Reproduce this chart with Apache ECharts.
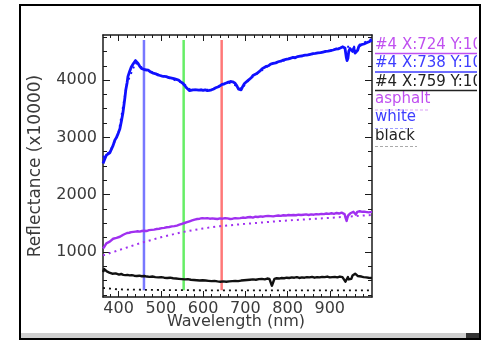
<!DOCTYPE html>
<html><head><meta charset="utf-8">
<script src="https://cdn.jsdelivr.net/npm/echarts@6/dist/echarts.min.js"></script>
<style>html,body{margin:0;padding:0;background:#fff}#c{width:485px;height:343px}</style>
</head><body><div id="c"></div>
<script>
// ---- data ----
const xMajorTicks = [400, 500, 600, 700, 800, 900];
const xMinorTicks = [380,400,420,440,460,480,500,520,540,560,580,600,620,640,660,680,700,720,740,760,780,800,820,840,860,880,900,920,940,960,980];
const yMajorTicks = [1000, 2000, 3000, 4000];
const yMinorTicks = [250,500,750,1000,1250,1500,1750,2000,2250,2500,2750,3000,3250,3500,3750,4000,4250,4500,4750];

const whiteNm = [363,367,371,375,379,383,387,391,395,399,403,407,410,412,415,417,420,422,426,430,435,440,443,446,450,454,458,462,466,470,476,482,488,493,498,503,508,513,518,523,528,533,537,542,547,552,556,560,564,568,572,576,580,585,590,595,600,605,610,615,620,625,630,635,640,645,650,655,660,665,670,675,680,684,687,690,694,698,702,706,710,714,718,722,726,730,735,740,745,750,755,760,766,772,778,784,790,796,802,808,813,818,824,830,836,842,848,854,860,866,872,878,884,890,896,902,908,914,920,925,930,933,936,939,941,943,945,948,951,954,957,960,963,966,969,972,975,978,981,984,987,990,993,996,1000];
const whiteMeasured = [2545,2620,2690,2700,2730,2750,2860,2950,3000,3070,3150,3300,3420,3530,3700,3830,3950,4060,4150,4230,4290,4340,4320,4290,4240,4205,4190,4180,4165,4175,4140,4120,4110,4090,4080,4070,4065,4060,4045,4040,4030,4020,4020,4000,3970,3945,3910,3870,3840,3815,3820,3830,3820,3830,3825,3830,3820,3830,3815,3820,3830,3845,3865,3880,3900,3925,3935,3950,3965,3975,3970,3950,3900,3840,3815,3830,3890,3940,3970,3990,4020,4040,4080,4100,4110,4140,4160,4200,4220,4240,4250,4280,4290,4300,4320,4330,4350,4360,4370,4385,4395,4390,4410,4420,4425,4435,4440,4450,4460,4465,4475,4480,4490,4500,4505,4515,4525,4540,4545,4560,4580,4590,4560,4400,4340,4380,4500,4550,4520,4500,4560,4470,4460,4520,4590,4580,4620,4600,4630,4640,4650,4680,4670,4700,4700];

const whiteLibNm = [363,380,400,420,440,460,500,550,570,620,660,680,690,710,760,820,900,930,960,1000];
const whiteLibrary = [2650,2760,3080,3950,4300,4190,4080,3960,3830,3830,3960,3900,3840,4020,4280,4400,4510,4580,4580,4720];

const asphaltNm = [363,367,371,375,379,383,387,391,395,399,403,407,411,415,420,425,430,435,440,445,450,455,460,466,472,478,484,490,496,502,508,514,520,526,532,538,544,550,556,562,568,574,580,586,592,598,604,610,616,622,628,634,640,646,652,658,664,670,676,682,688,694,700,706,712,718,724,730,736,742,748,754,760,766,772,778,784,790,796,802,808,814,820,826,832,838,844,850,856,862,868,874,880,886,892,898,904,910,916,922,928,932,935,938,940,942,944,947,950,953,956,959,962,965,968,971,974,977,980,984,988,992,996,1000];
const asphaltMeasured = [1060,1100,1150,1175,1180,1210,1230,1220,1245,1260,1265,1290,1300,1315,1330,1335,1345,1350,1355,1360,1355,1365,1370,1365,1380,1385,1390,1400,1405,1415,1420,1430,1435,1445,1450,1460,1475,1490,1505,1520,1535,1550,1565,1575,1580,1590,1585,1590,1580,1585,1580,1575,1585,1580,1590,1585,1575,1580,1590,1585,1590,1600,1595,1605,1610,1600,1615,1610,1620,1615,1625,1630,1625,1620,1630,1635,1630,1640,1635,1645,1640,1645,1640,1650,1645,1650,1655,1645,1655,1650,1660,1655,1665,1660,1670,1665,1675,1665,1680,1670,1685,1670,1660,1580,1540,1600,1640,1620,1680,1660,1700,1680,1650,1700,1680,1710,1690,1700,1720,1700,1710,1690,1720,1700];

const asphaltLibNm = [363,400,450,500,550,600,640,700,750,800,850,900,950,1000];
const asphaltLibrary = [940,1030,1150,1255,1345,1410,1450,1490,1520,1550,1570,1595,1620,1645];

const blackNm = [363,366,369,372,375,378,381,385,389,393,397,401,406,411,416,421,426,431,437,443,449,455,461,467,473,480,487,494,501,508,515,522,529,536,543,550,557,564,571,578,585,592,599,606,613,620,627,634,641,648,655,662,669,676,683,690,697,704,711,718,725,732,739,746,752,757,760,763,766,769,774,780,786,792,798,804,810,816,822,828,834,840,846,852,858,864,870,876,882,888,894,900,906,912,918,924,930,934,937,939,941,943,945,948,951,954,957,960,963,966,970,975,980,986,992,1000];
const blackMeasured = [650,700,690,660,650,640,630,620,615,625,610,605,615,600,595,600,590,595,585,580,585,575,580,570,565,570,560,555,560,550,545,550,540,535,530,525,520,525,515,510,505,500,505,500,495,490,495,485,480,485,480,485,490,495,490,500,505,510,515,520,515,525,530,520,535,530,470,410,470,530,540,535,545,540,550,545,555,550,560,545,555,550,560,555,565,550,560,555,565,560,570,555,560,565,555,570,560,540,480,450,500,560,520,490,530,590,600,620,600,580,590,570,560,555,550,545];

const blackLibNm = [363,380,400,500,600,700,800,900,1000];
const blackLibrary = [370,360,345,335,330,330,330,330,330];

const bandNm = [460, 554, 644];
const bandColors = ['#7878ff', '#66ee66', '#ff7878'];
const bandRange = [330, 4700];

const legendRows = ['#4 X:724 Y:10', '#4 X:738 Y:10', '#4 X:759 Y:10', 'asphalt', 'white', 'black'];

// ---- chart ----
const zip = (a, b) => a.map((v, i) => [v, b[i]]);
const AX = '#1a1a1a', TXT = '#3a3a3a', FONT = 'DejaVu Sans';
const PURPLE = '#a030f0', BLUE = '#1010ff', BLACK = '#111';

function xAx(pos, major) {
  return {
    type: 'value', min: 363, max: 1000, position: pos,
    axisLine: { show: major, lineStyle: { color: AX, width: 1.5 } },
    axisTick: { show: true, inside: true, length: major ? 6 : 3, customValues: major ? xMajorTicks : xMinorTicks, lineStyle: { color: AX, width: 1 } },
    axisLabel: (major && pos === 'bottom') ? { show: true, customValues: xMajorTicks, formatter: v => String(v), fontFamily: FONT, fontSize: 16, color: TXT, margin: 4 } : { show: false },
    splitLine: { show: false }
  };
}
function yAx(pos, major) {
  return {
    type: 'value', min: 213, max: 4787, position: pos,
    axisLine: { show: major, lineStyle: { color: AX, width: 1.5 } },
    axisTick: { show: true, inside: true, length: major ? 7 : 4, customValues: major ? yMajorTicks : yMinorTicks, lineStyle: { color: AX, width: 1 } },
    axisLabel: (major && pos === 'left') ? { show: true, customValues: yMajorTicks, formatter: v => String(v), fontFamily: FONT, fontSize: 16, color: TXT, margin: 6 } : { show: false },
    splitLine: { show: false }
  };
}

const series = [];
bandNm.forEach((nm, i) => series.push({
  type: 'line', symbol: 'none', z: 1, data: [[nm, bandRange[0]], [nm, bandRange[1]]],
  lineStyle: { color: bandColors[i], width: 2.5 }
}));
function addLine(x, y, color, width, dotted) {
  series.push({
    type: 'line', symbol: 'none', z: 2, data: zip(x, y),
    lineStyle: { color: color, width: width, type: dotted ? [2, 4] : 'solid', join: 'round' }
  });
}
addLine(blackLibNm, blackLibrary, BLACK, 1.8, true);
addLine(blackNm, blackMeasured, BLACK, 2.4, false);
addLine(asphaltLibNm, asphaltLibrary, PURPLE, 2, true);
addLine(asphaltNm, asphaltMeasured, PURPLE, 2.4, false);
addLine(whiteLibNm, whiteLibrary, BLUE, 2, true);
addLine(whiteNm, whiteMeasured, BLUE, 2.8, false);

const legendColors = ['#c050f0', '#3d3dff', '#222', '#c050f0', '#3d3dff', '#222'];
const legendY = [45, 63.5, 82, 99.5, 117.5, 136];
const graphic = [];
legendRows.forEach((t, i) => {
  graphic.push({ type: 'text', x: 375, y: legendY[i], z: 10,
    style: { text: t, fontFamily: FONT, fontSize: 15, fill: legendColors[i], align: 'left', verticalAlign: 'middle' } });
});
const lineCols = ['#c050f0', '#3d3dff', '#222'];
[53.5, 72, 90.5].forEach((y, i) => graphic.push({ type: 'line', z: 10,
  shape: { x1: 375, y1: y, x2: 478, y2: y }, style: { stroke: lineCols[i], lineWidth: 1.5 } }));
const dotCols = ['#d9a0f5', '#a0a0ff', '#aaaaaa'];
const dotLens = [55, 40, 42];
[110, 128.5, 146.5].forEach((y, i) => graphic.push({ type: 'line', z: 10,
  shape: { x1: 375, y1: y, x2: 375 + dotLens[i], y2: y }, style: { stroke: dotCols[i], lineWidth: 1.2, lineDash: [3, 2] } }));
// cover / frame
graphic.push({ type: 'rect', z: 20, shape: { x: 477, y: 30, width: 8, height: 130 }, style: { fill: '#fff' } });
graphic.push({ type: 'rect', z: 21, shape: { x: 21, y: 333, width: 458, height: 6 }, style: { fill: '#cfcfcf' } });
graphic.push({ type: 'rect', z: 21, shape: { x: 466, y: 333, width: 13, height: 6 }, style: { fill: '#333' } });
graphic.push({ type: 'rect', z: 22, shape: { x: 20, y: 5, width: 460, height: 334 }, style: { fill: null, stroke: '#000', lineWidth: 2 } });
// axis names
graphic.push({ type: 'text', z: 10, x: 236, y: 322, style: { text: 'Wavelength (nm)', fontFamily: FONT, fontSize: 16, fill: TXT, align: 'center', verticalAlign: 'middle' } });
graphic.push({ type: 'text', z: 10, x: 36, y: 166, rotation: Math.PI / 2, style: { text: 'Reflectance (x10000)', fontFamily: FONT, fontSize: 17, fill: TXT, align: 'center', verticalAlign: 'middle' } });

const chart = echarts.init(document.getElementById('c'), null, { renderer: 'canvas' });
chart.setOption({
  animation: false,
  backgroundColor: '#fff',
  grid: { left: 103, right: 113, top: 35, bottom: 46 },
  xAxis: [xAx('bottom', true), xAx('bottom', false), xAx('top', true), xAx('top', false)],
  yAxis: [yAx('left', true), yAx('left', false), yAx('right', true), yAx('right', false)],
  series: series,
  graphic: graphic
});
</script></body></html>
